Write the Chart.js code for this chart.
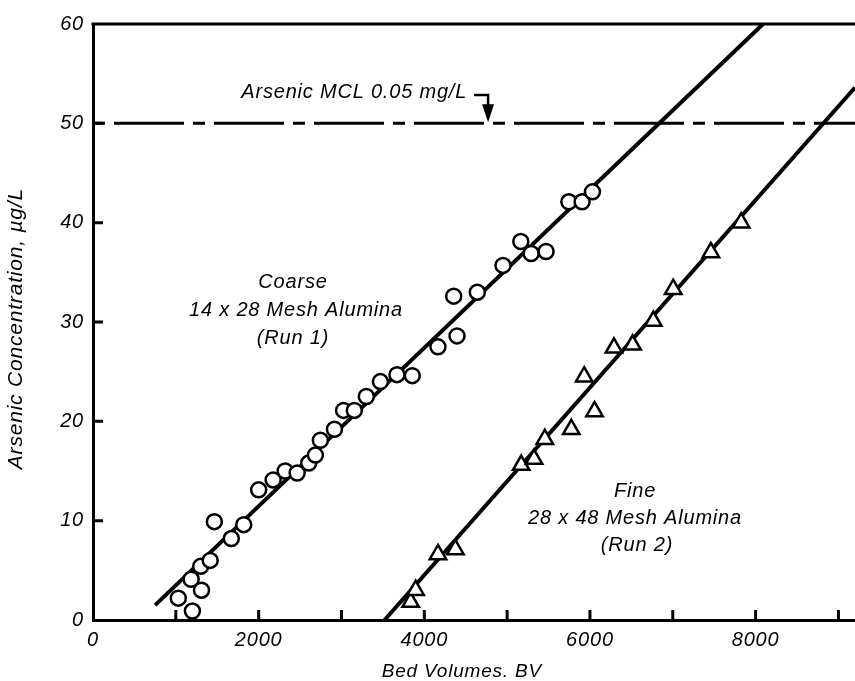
<!DOCTYPE html>
<html>
<head>
<meta charset="utf-8">
<script src="https://cdn.jsdelivr.net/npm/chart.js@4.4.1/dist/chart.umd.min.js"></script>
<style>
  html, body { margin: 0; padding: 0; background: #fff; overflow: hidden; }
  #wrap { width: 855px; height: 681px; position: relative; }
</style>
</head>
<body>
<div id="wrap"><canvas id="bvChart"></canvas></div>
<script>
// Run 1: coarse 14 x 28 mesh alumina (circles)
const coarseBV = [1030, 1200, 1185, 1310, 1300, 1415, 1465, 1670, 1820, 2000, 2175, 2320, 2465, 2605, 2685, 2745, 2915, 3025, 3155, 3300, 3470, 3670, 3855, 4165, 4395, 4355, 4640, 4950, 5165, 5290, 5470, 5745, 5905, 6030];
const coarseAs = [2.2, 0.9, 4.1, 3.0, 5.4, 6.0, 9.9, 8.2, 9.6, 13.1, 14.1, 15.0, 14.8, 15.8, 16.6, 18.1, 19.2, 21.1, 21.1, 22.5, 24.0, 24.7, 24.6, 27.5, 28.6, 32.6, 33.0, 35.7, 38.1, 36.9, 37.1, 42.1, 42.1, 43.1];

// Run 2: fine 28 x 48 mesh alumina (triangles)
const fineBV = [3835, 3895, 4165, 4375, 5170, 5325, 5455, 5775, 6055, 5930, 6290, 6515, 6765, 7005, 7460, 7825];
const fineAs = [1.8, 3.0, 6.6, 7.1, 15.6, 16.2, 18.2, 19.2, 21.0, 24.5, 27.4, 27.7, 30.1, 33.3, 37.0, 40.0];

// fitted lines (end points)
const coarseFitBV = [750, 8090];
const coarseFitAs = [1.5, 60];
const fineFitBV = [3520, 9200];
const fineFitAs = [0, 53.6];

// MCL reference line
const mclBV = [0, 9200];
const mclAs = [50, 50];
const mclArrowBV = 4770;

const xTicks = [0, 1000, 2000, 3000, 4000, 5000, 6000, 7000, 8000, 9000];
const xLabelTicks = [0, 2000, 4000, 6000, 8000];
const yTicks = [0, 10, 20, 30, 40, 50, 60];

const toPts = (xs, ys) => xs.map((v, i) => ({ x: v, y: ys[i] }));

const FONT = '"Liberation Sans", Arial, sans-serif';

const framePlugin = {
    id: 'frame',
    beforeDraw(chart) {
        chart.ctx.letterSpacing = '0.8px';
    },
    afterDraw(chart) {
        const { ctx, chartArea: { left, right, top, bottom }, scales: { x, y } } = chart;
        ctx.save();
        ctx.strokeStyle = '#000';
        ctx.fillStyle = '#000';
        ctx.lineWidth = 3;

        // top frame line
        ctx.beginPath();
        ctx.moveTo(left - 1.5, top);
        ctx.lineTo(right, top);
        ctx.stroke();

        // inward ticks
        ctx.beginPath();
        xTicks.forEach(v => {
            if (v === 0) return;
            const px = x.getPixelForValue(v);
            ctx.moveTo(px, bottom);
            ctx.lineTo(px, bottom - 10);
        });
        yTicks.forEach(v => {
            if (v === 0 || v === 60) return;
            const py = y.getPixelForValue(v);
            ctx.moveTo(left, py);
            ctx.lineTo(left + 10, py);
        });
        ctx.stroke();

        // series labels
        ctx.letterSpacing = '0.8px';
        ctx.font = 'italic 20px ' + FONT;
        ctx.textAlign = 'center';
        ctx.textBaseline = 'middle';
        ctx.fillText('Coarse', 293, 282);
        ctx.fillText('14 x 28 Mesh Alumina', 296, 310);
        ctx.fillText('(Run 1)', 293, 338);
        ctx.fillText('Fine', 635, 491);
        ctx.fillText('28 x 48 Mesh Alumina', 635, 518);
        ctx.fillText('(Run 2)', 637, 545);

        // MCL note with arrow
        const ax = x.getPixelForValue(mclArrowBV);
        const ay = y.getPixelForValue(50);
        ctx.textAlign = 'right';
        ctx.fillText('Arsenic MCL 0.05 mg/L', ax - 21, 92);
        ctx.lineWidth = 2.5;
        ctx.beginPath();
        ctx.moveTo(ax - 14, 95);
        ctx.lineTo(ax, 95);
        ctx.lineTo(ax, ay - 14);
        ctx.stroke();
        ctx.beginPath();
        ctx.moveTo(ax - 6, ay - 19);
        ctx.lineTo(ax + 6, ay - 19);
        ctx.lineTo(ax, ay - 1);
        ctx.closePath();
        ctx.fill();
        ctx.restore();
    }
};

new Chart(document.getElementById('bvChart'), {
    type: 'scatter',
    data: {
        datasets: [
            {
                label: 'Coarse 14 x 28 Mesh Alumina (Run 1)',
                data: toPts(coarseBV, coarseAs),
                pointStyle: 'circle',
                pointRadius: 7.5,
                pointBorderWidth: 2.5,
                pointBackgroundColor: '#fff',
                pointBorderColor: '#000',
                order: 0
            },
            {
                label: 'Fine 28 x 48 Mesh Alumina (Run 2)',
                data: toPts(fineBV, fineAs),
                pointStyle: 'triangle',
                pointRadius: 9.5,
                pointBorderWidth: 2.5,
                pointBackgroundColor: '#fff',
                pointBorderColor: '#000',
                order: 0
            },
            {
                label: 'Coarse fit',
                data: toPts(coarseFitBV, coarseFitAs),
                showLine: true,
                borderColor: '#000',
                borderWidth: 4,
                pointRadius: 0,
                order: 1
            },
            {
                label: 'Fine fit',
                data: toPts(fineFitBV, fineFitAs),
                showLine: true,
                borderColor: '#000',
                borderWidth: 4,
                pointRadius: 0,
                order: 1
            },
            {
                label: 'MCL',
                data: toPts(mclBV, mclAs),
                showLine: true,
                borderColor: '#000',
                borderWidth: 3,
                borderDash: [70, 9, 12, 9],
                borderDashOffset: 79,
                pointRadius: 0,
                order: 2
            }
        ]
    },
    options: {
        responsive: true,
        maintainAspectRatio: false,
        animation: false,
        layout: { autoPadding: false, padding: { top: 24, right: 0, left: 0, bottom: 0 } },
        plugins: {
            legend: { display: false },
            tooltip: { enabled: false }
        },
        scales: {
            x: {
                type: 'linear',
                min: 0,
                max: 9200,
                afterBuildTicks(scale) {
                    scale.ticks = xTicks.map(v => ({ value: v }));
                },
                afterFit(scale) {
                    scale.height = 61;
                    scale.paddingLeft = 0;
                    scale.paddingRight = 0;
                },
                grid: { display: false, drawTicks: false },
                border: { display: true, color: '#000', width: 3 },
                ticks: {
                    autoSkip: false,
                    maxRotation: 0,
                    padding: 8,
                    color: '#000',
                    font: { family: FONT, size: 20, style: 'italic' },
                    callback: v => (xLabelTicks.includes(v) ? String(v) : '')
                },
                title: {
                    display: true,
                    text: 'Bed Volumes. BV    ',
                    color: '#000',
                    font: { family: FONT, size: 19, style: 'italic', lineHeight: 1 },
                    padding: { top: 0, bottom: 0 }
                }
            },
            y: {
                type: 'linear',
                min: 0,
                max: 60,
                afterBuildTicks(scale) {
                    scale.ticks = yTicks.map(v => ({ value: v }));
                },
                afterFit(scale) {
                    scale.width = 93;
                    scale.paddingTop = 0;
                    scale.paddingBottom = 0;
                },
                grid: { display: false, drawTicks: false },
                border: { display: true, color: '#000', width: 3 },
                ticks: {
                    padding: 9,
                    color: '#000',
                    font: { family: FONT, size: 20, style: 'italic' }
                },
                title: {
                    display: true,
                    text: 'Arsenic Concentration, µg/L  ',
                    color: '#000',
                    font: { family: FONT, size: 21, style: 'italic', lineHeight: 1.2 },
                    padding: { top: 4, bottom: 4 }
                }
            }
        }
    },
    plugins: [framePlugin]
});
</script>
</body>
</html>
